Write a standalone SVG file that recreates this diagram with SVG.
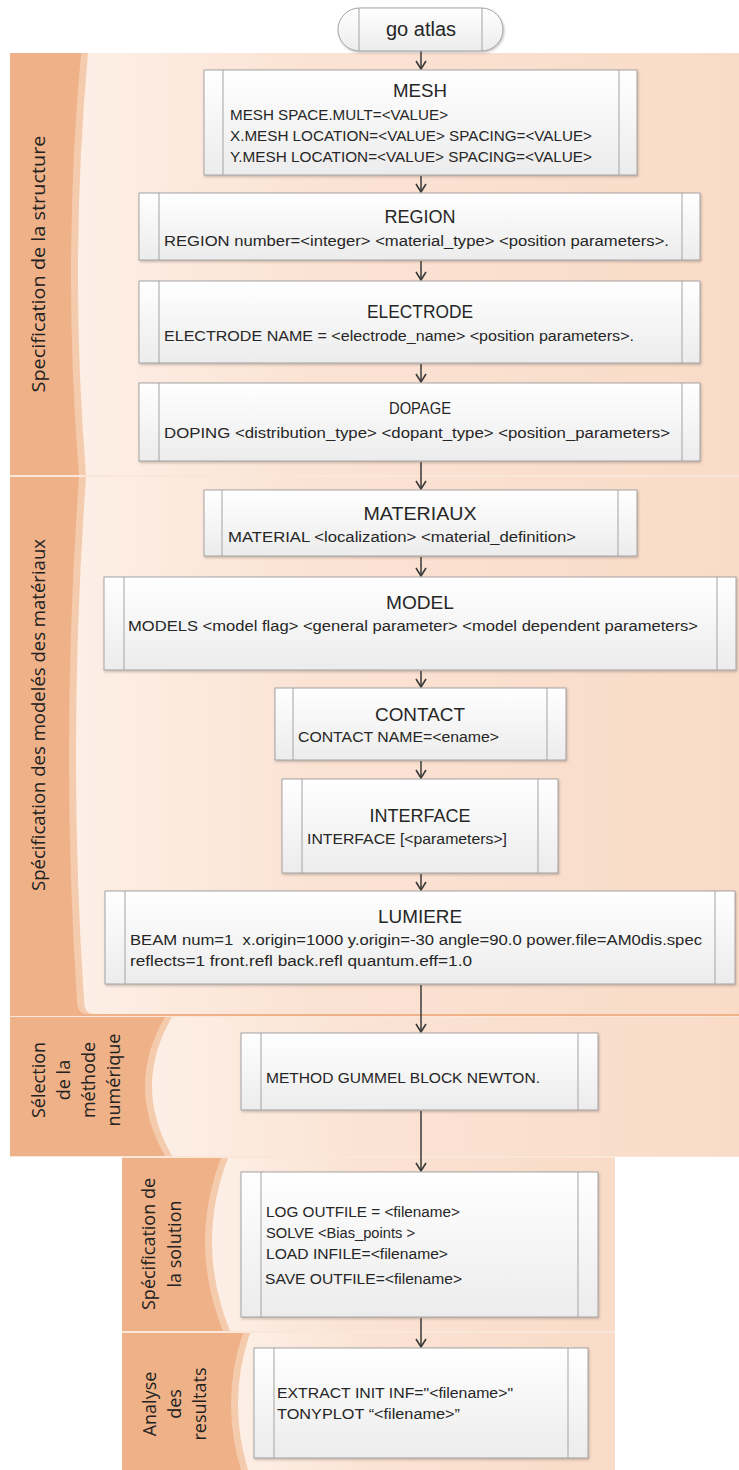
<svg xmlns="http://www.w3.org/2000/svg" xmlns:xlink="http://www.w3.org/1999/xlink" width="739" height="1470" viewBox="0 0 739 1470">
<defs>
<linearGradient id="boxg" x1="0" y1="0" x2="0" y2="1"><stop offset="0" stop-color="#ffffff"/><stop offset="1" stop-color="#ececec"/></linearGradient>
<linearGradient id="lightg" x1="0" y1="0" x2="1" y2="0"><stop offset="0" stop-color="#fdefe6"/><stop offset="0.35" stop-color="#fbe3d4"/><stop offset="1" stop-color="#f9dbc8"/></linearGradient>
<filter id="sh" x="-5%" y="-5%" width="110%" height="120%"><feDropShadow dx="1" dy="1.5" stdDeviation="1" flood-color="#6b5a50" flood-opacity="0.35"/></filter>
<marker id="arr" viewBox="0 0 12 12" refX="10" refY="6" markerWidth="12" markerHeight="12" markerUnits="userSpaceOnUse" orient="auto"><path d="M2,1 L10,6 L2,11" fill="none" stroke="#3a3a3a" stroke-width="1.6"/></marker>
<style>
.box{fill:url(#boxg);stroke:#a3a3a3;stroke-width:1;filter:url(#sh)}
.inl{stroke:#a3a3a3;stroke-width:1}
.dark{fill:#efb187}
.rib{fill:#f5cbae}
.light{fill:url(#lightg)}
.sep{fill:#fbe7da}
.t{font-family:"Liberation Sans",Arial,sans-serif;fill:#262626}
.ti{font-size:18px;text-anchor:middle}
.b{font-size:15.5px;white-space:pre}
.lab{font-family:"Open Sans","DejaVu Sans",sans-serif;font-size:18px;fill:#222222;text-anchor:middle}
.con{stroke:#3a3a3a;stroke-width:1.5;fill:none;marker-end:url(#arr)}
</style>
</defs>

<g id="bands">
<rect class="sep" x="10" y="53" width="729" height="1104"/>
<rect class="sep" x="122" y="1156" width="493" height="314"/>
<!-- band 1 -->
<rect class="dark" x="10" y="53" width="729" height="422"/>
<path class="rib" d="M81,53 H731 V475 H79 Q62,264 81,53 Z"/>
<path class="light" d="M88,53 H739 V475 H86 Q69,264 88,53 Z"/>
<!-- band 2 -->
<rect class="dark" x="10" y="477" width="729" height="539"/>
<path class="rib" d="M79,477 H731 V1014 H87 Q77,1014 77,1000 Q60,745 79,477 Z"/>
<path class="light" d="M86,477 H739 V1014 H94 Q84,1014 84,1000 Q67,745 86,477 Z"/>
<!-- band 3 -->
<rect class="dark" x="10" y="1017" width="729" height="139"/>
<path class="rib" d="M165,1017 H731 V1156 H165 Q125,1086 165,1017 Z"/>
<path class="light" d="M172,1017 H739 V1156 H172 Q132,1086 172,1017 Z"/>
<!-- band 4 -->
<rect class="dark" x="122" y="1158" width="493" height="173"/>
<path class="rib" d="M221,1158 H607 V1331 H223 Q188,1244 221,1158 Z"/>
<path class="light" d="M228,1158 H615 V1331 H230 Q195,1244 228,1158 Z"/>
<!-- band 5 -->
<rect class="dark" x="122" y="1333" width="493" height="137"/>
<path class="rib" d="M243,1333 H607 V1470 H241 Q220,1401 243,1333 Z"/>
<path class="light" d="M250,1333 H615 V1470 H248 Q227,1401 250,1333 Z"/>

<text class="lab" transform="translate(45,264) rotate(-90)" textLength="257" lengthAdjust="spacingAndGlyphs">Specification de la structure</text>
<text class="lab" transform="translate(45,715) rotate(-90)" textLength="352" lengthAdjust="spacingAndGlyphs">Spécification des modelés des matériaux</text>
<text class="lab" transform="translate(45,1080) rotate(-90)">Sélection</text>
<text class="lab" transform="translate(70,1080) rotate(-90)">de la</text>
<text class="lab" transform="translate(95,1080) rotate(-90)">méthode</text>
<text class="lab" transform="translate(120,1080) rotate(-90)">numérique</text>
<text class="lab" transform="translate(155,1244) rotate(-90)">Spécification de</text>
<text class="lab" transform="translate(181,1244) rotate(-90)">la solution</text>
<text class="lab" transform="translate(156,1404) rotate(-90)">Analyse</text>
<text class="lab" transform="translate(181,1404) rotate(-90)">des</text>
<text class="lab" transform="translate(206,1404) rotate(-90)">resultats</text>
</g>

<g id="connectors">
<line class="con" x1="421" y1="51" x2="421" y2="69"/>
<line class="con" x1="421" y1="176" x2="421" y2="192"/>
<line class="con" x1="421" y1="261" x2="421" y2="280"/>
<line class="con" x1="421" y1="364" x2="421" y2="382"/>
<line class="con" x1="421" y1="462" x2="421" y2="489"/>
<line class="con" x1="421" y1="557" x2="421" y2="576"/>
<line class="con" x1="421" y1="671" x2="421" y2="687"/>
<line class="con" x1="421" y1="761" x2="421" y2="778"/>
<line class="con" x1="421" y1="874" x2="421" y2="890"/>
<line class="con" x1="421" y1="985" x2="421" y2="1032"/>
<line class="con" x1="421" y1="1111" x2="421" y2="1171"/>
<line class="con" x1="421" y1="1318" x2="421" y2="1347"/>
</g>

<g id="start">
<rect class="box" x="338" y="8" width="165" height="43" rx="21.5"/>
<line class="inl" x1="359" y1="8" x2="359" y2="51"/>
<line class="inl" x1="482" y1="8" x2="482" y2="51"/>
<text class="t" x="421" y="36" font-size="20" text-anchor="middle">go atlas</text>
</g>

<g id="mesh">
<rect class="box" x="204" y="70" width="433" height="105"/>
<line class="inl" x1="223" y1="70" x2="223" y2="175"/>
<line class="inl" x1="619" y1="70" x2="619" y2="175"/>
<text class="t ti" x="420" y="97" textLength="54" lengthAdjust="spacingAndGlyphs">MESH</text>
<text class="t b" x="230" y="120" textLength="218" lengthAdjust="spacingAndGlyphs">MESH SPACE.MULT=&lt;VALUE&gt;</text>
<text class="t b" x="230" y="141" textLength="362" lengthAdjust="spacingAndGlyphs">X.MESH LOCATION=&lt;VALUE&gt; SPACING=&lt;VALUE&gt;</text>
<text class="t b" x="230" y="162" textLength="362" lengthAdjust="spacingAndGlyphs">Y.MESH LOCATION=&lt;VALUE&gt; SPACING=&lt;VALUE&gt;</text>
</g>

<g id="region">
<rect class="box" x="139" y="193" width="561" height="67"/>
<line class="inl" x1="159" y1="193" x2="159" y2="260"/>
<line class="inl" x1="682" y1="193" x2="682" y2="260"/>
<text class="t ti" x="420" y="223" textLength="71" lengthAdjust="spacingAndGlyphs">REGION</text>
<text class="t b" x="164" y="246" textLength="505" lengthAdjust="spacingAndGlyphs">REGION number=&lt;integer&gt; &lt;material_type&gt; &lt;position parameters&gt;.</text>
</g>

<g id="electrode">
<rect class="box" x="139" y="281" width="561" height="82"/>
<line class="inl" x1="159" y1="281" x2="159" y2="363"/>
<line class="inl" x1="682" y1="281" x2="682" y2="363"/>
<text class="t ti" x="420" y="318" textLength="106" lengthAdjust="spacingAndGlyphs">ELECTRODE</text>
<text class="t b" x="164" y="341" textLength="470" lengthAdjust="spacingAndGlyphs">ELECTRODE NAME = &lt;electrode_name&gt; &lt;position parameters&gt;.</text>
</g>

<g id="dopage">
<rect class="box" x="139" y="383" width="561" height="78"/>
<line class="inl" x1="159" y1="383" x2="159" y2="461"/>
<line class="inl" x1="682" y1="383" x2="682" y2="461"/>
<text class="t" x="420" y="414" font-size="16" text-anchor="middle" textLength="62" lengthAdjust="spacingAndGlyphs">DOPAGE</text>
<text class="t b" x="164" y="438" textLength="506" lengthAdjust="spacingAndGlyphs">DOPING &lt;distribution_type&gt; &lt;dopant_type&gt; &lt;position_parameters&gt;</text>
</g>

<g id="materiaux">
<rect class="box" x="204" y="490" width="433" height="66"/>
<line class="inl" x1="222" y1="490" x2="222" y2="556"/>
<line class="inl" x1="618" y1="490" x2="618" y2="556"/>
<text class="t ti" x="420" y="520" textLength="113" lengthAdjust="spacingAndGlyphs">MATERIAUX</text>
<text class="t b" x="228" y="542" textLength="348" lengthAdjust="spacingAndGlyphs">MATERIAL &lt;localization&gt; &lt;material_definition&gt;</text>
</g>

<g id="model">
<rect class="box" x="104" y="577" width="632" height="93"/>
<line class="inl" x1="124" y1="577" x2="124" y2="670"/>
<line class="inl" x1="717" y1="577" x2="717" y2="670"/>
<text class="t ti" x="420" y="609" textLength="68" lengthAdjust="spacingAndGlyphs">MODEL</text>
<text class="t b" x="128" y="631" textLength="570" lengthAdjust="spacingAndGlyphs">MODELS &lt;model flag&gt; &lt;general parameter&gt; &lt;model dependent parameters&gt;</text>
</g>

<g id="contact">
<rect class="box" x="275" y="688" width="291" height="72"/>
<line class="inl" x1="293" y1="688" x2="293" y2="760"/>
<line class="inl" x1="547" y1="688" x2="547" y2="760"/>
<text class="t ti" x="420" y="721" textLength="90" lengthAdjust="spacingAndGlyphs">CONTACT</text>
<text class="t b" x="298" y="742" textLength="201" lengthAdjust="spacingAndGlyphs">CONTACT NAME=&lt;ename&gt;</text>
</g>

<g id="interface">
<rect class="box" x="282" y="779" width="276" height="94"/>
<line class="inl" x1="302" y1="779" x2="302" y2="873"/>
<line class="inl" x1="538" y1="779" x2="538" y2="873"/>
<text class="t ti" x="420" y="822" textLength="101" lengthAdjust="spacingAndGlyphs">INTERFACE</text>
<text class="t b" x="307" y="844" textLength="200" lengthAdjust="spacingAndGlyphs">INTERFACE [&lt;parameters&gt;]</text>
</g>

<g id="lumiere">
<rect class="box" x="105" y="891" width="630" height="93"/>
<line class="inl" x1="125" y1="891" x2="125" y2="984"/>
<line class="inl" x1="715" y1="891" x2="715" y2="984"/>
<text class="t ti" x="420" y="923" textLength="84" lengthAdjust="spacingAndGlyphs">LUMIERE</text>
<text class="t b" x="130" y="945" textLength="572" lengthAdjust="spacingAndGlyphs">BEAM num=1  x.origin=1000 y.origin=-30 angle=90.0 power.file=AM0dis.spec</text>
<text class="t b" x="130" y="966" textLength="342" lengthAdjust="spacingAndGlyphs">reflects=1 front.refl back.refl quantum.eff=1.0</text>
</g>

<g id="method">
<rect class="box" x="241" y="1033" width="357" height="77"/>
<line class="inl" x1="261" y1="1033" x2="261" y2="1110"/>
<line class="inl" x1="578" y1="1033" x2="578" y2="1110"/>
<text class="t b" x="266" y="1083" textLength="274" lengthAdjust="spacingAndGlyphs">METHOD GUMMEL BLOCK NEWTON.</text>
</g>

<g id="solution">
<rect class="box" x="241" y="1172" width="357" height="145"/>
<line class="inl" x1="261" y1="1172" x2="261" y2="1317"/>
<line class="inl" x1="578" y1="1172" x2="578" y2="1317"/>
<text class="t b" x="266" y="1217" textLength="194" lengthAdjust="spacingAndGlyphs">LOG OUTFILE = &lt;filename&gt;</text>
<text class="t b" x="266" y="1238" textLength="149" lengthAdjust="spacingAndGlyphs">SOLVE &lt;Bias_points &gt;</text>
<text class="t b" x="266" y="1259" textLength="182" lengthAdjust="spacingAndGlyphs">LOAD INFILE=&lt;filename&gt;</text>
<text class="t b" x="265" y="1284" textLength="197" lengthAdjust="spacingAndGlyphs">SAVE OUTFILE=&lt;filename&gt;</text>
</g>

<g id="analyse">
<rect class="box" x="254" y="1348" width="334" height="110"/>
<line class="inl" x1="274" y1="1348" x2="274" y2="1458"/>
<line class="inl" x1="568" y1="1348" x2="568" y2="1458"/>
<text class="t b" x="277" y="1398" textLength="236" lengthAdjust="spacingAndGlyphs">EXTRACT INIT INF="&lt;filename&gt;"</text>
<text class="t b" x="277" y="1419" textLength="183" lengthAdjust="spacingAndGlyphs">TONYPLOT “&lt;filename&gt;”</text>
</g>
</svg>
